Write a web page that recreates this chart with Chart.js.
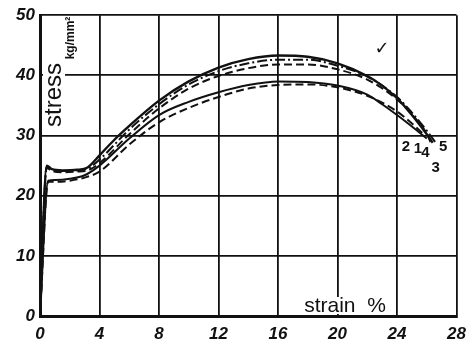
<!DOCTYPE html>
<html>
<head>
<meta charset="utf-8">
<script src="https://cdn.jsdelivr.net/npm/chart.js@4"></script>
<style>
  html, body { margin: 0; padding: 0; background: #fff; }
  canvas { display: block; }
</style>
</head>
<body>
<canvas id="stressChart" width="474" height="345"></canvas>
<script>
// Strain (%) and stress (kg/mm²), one pair of arrays per test curve
const strainA = [0, 0.45, 0.8, 1.5, 2.5, 3.2, 4, 5, 6, 8, 10, 12, 14, 16, 18, 20, 22, 23, 24, 25, 26, 26.4];
const stressA = [0, 25.0, 24.4, 24.2, 24.3, 24.7, 26.7, 29.3, 31.6, 35.8, 39.0, 41.3, 42.7, 43.3, 43.1, 42.0, 39.9, 38.3, 36.2, 33.4, 30.2, 28.8];

const strainB = [0, 0.45, 0.8, 1.5, 2.5, 3.2, 4, 6, 8, 10, 12, 14, 16, 18, 20, 22, 24, 25, 26, 26.6];
const stressB = [0, 24.8, 24.3, 24.1, 24.2, 24.5, 26.0, 31.0, 35.2, 38.5, 40.7, 42.0, 42.6, 42.6, 41.6, 39.8, 36.4, 33.8, 30.8, 28.8];

const strainC = [0, 0.45, 0.8, 1.5, 2.5, 3.2, 4, 6, 8, 10, 12, 14, 16, 18, 20, 22, 24, 25, 26, 26.3];
const stressC = [0, 24.6, 24.1, 23.9, 24.0, 24.2, 25.4, 30.2, 34.5, 37.8, 39.9, 41.2, 41.8, 41.8, 41.0, 39.3, 36.0, 33.5, 30.3, 28.6];

const strainD = [0, 0.55, 1, 2, 3, 4, 6, 8, 10, 12, 14, 16, 18, 20, 22, 23, 24, 25, 26];
const stressD = [0, 22.5, 22.6, 22.8, 23.4, 25.0, 29.5, 33.4, 35.6, 37.2, 38.4, 39.0, 38.9, 38.3, 36.8, 35.2, 33.4, 31.5, 29.5];

const strainE = [0, 0.55, 1, 2, 3, 4, 6, 8, 10, 12, 14, 16, 18, 20, 22, 24, 25, 25.8];
const stressE = [0, 22.3, 22.3, 22.5, 23.0, 24.0, 28.5, 32.2, 34.6, 36.4, 37.8, 38.4, 38.5, 38.0, 36.6, 34.0, 32.0, 30.2];

// Curve numbers written near the fracture ends
const curveLabels = ["2", "1", "4", "5", "3"];
const curveLabelX = [24.6, 25.4, 25.9, 27.1, 26.6];
const curveLabelY = [28.1, 27.8, 27.2, 28.1, 24.7];

const xTicks = [0, 4, 8, 12, 16, 20, 24, 28];
const yTicks = [0, 10, 20, 30, 40, 50];

const ink = "#111";
const tickFont = { family: "Liberation Sans", size: 17, weight: "bold", style: "italic" };

const toPoints = (xs, ys) => xs.map((x, i) => ({ x: x, y: ys[i] }));

const curve = (xs, ys, dash, width) => ({
  data: toPoints(xs, ys),
  showLine: true,
  borderColor: ink,
  borderWidth: width,
  borderDash: dash,
  pointRadius: 0,
  cubicInterpolationMode: "monotone",
  fill: false
});

// Text written inside the plot frame: axis names, curve numbers
const annotations = {
  id: "annotations",
  beforeDatasetsDraw(chart) {
    const ctx = chart.ctx;
    ctx.save();
    ctx.fillStyle = "#fff";
    ctx.fillRect(43, 58, 22, 74);
    ctx.fillRect(296, 297, 98, 17);
    ctx.restore();
  },
  afterDatasetsDraw(chart) {
    const ctx = chart.ctx;
    const xs = chart.scales.x;
    const ys = chart.scales.y;
    ctx.save();
    ctx.fillStyle = ink;
    ctx.textAlign = "center";
    ctx.textBaseline = "middle";

    // y axis name, rotated
    ctx.save();
    ctx.translate(54, 95);
    ctx.rotate(-Math.PI / 2);
    ctx.font = "24px 'Liberation Sans'";
    ctx.fillText("stress", 0, 0);
    ctx.restore();

    ctx.save();
    ctx.translate(71, 38);
    ctx.rotate(-Math.PI / 2);
    ctx.font = "bold 12px 'Liberation Sans'";
    ctx.fillText("kg/mm²", 0, 0);
    ctx.restore();

    // x axis name
    ctx.font = "21px 'Liberation Sans'";
    ctx.fillText("strain  %", 345, 306);

    // curve numbers
    ctx.font = "bold 15px 'Liberation Sans'";
    curveLabels.forEach((t, i) => {
      ctx.fillText(t, xs.getPixelForValue(curveLabelX[i]), ys.getPixelForValue(curveLabelY[i]));
    });

    // pencil tick on the scan
    ctx.font = "bold 18px 'DejaVu Sans'";
    ctx.fillText("✓", 382, 49);
    ctx.restore();
  }
};

new Chart(document.getElementById("stressChart"), {
  type: "scatter",
  data: {
    datasets: [
      curve(strainA, stressA, [], 2.4),
      curve(strainB, stressB, [10, 3, 2, 3], 2),
      curve(strainC, stressC, [8, 4], 2),
      curve(strainD, stressD, [], 2),
      curve(strainE, stressE, [8, 4], 2)
    ]
  },
  options: {
    responsive: false,
    animation: false,
    layout: { padding: { top: 15, right: 10, bottom: 0, left: 0 } },
    plugins: {
      legend: { display: false },
      tooltip: { enabled: false }
    },
    scales: {
      x: {
        type: "linear",
        min: 0,
        max: 28,
        afterFit: (scale) => { scale.height = 29; },
        afterBuildTicks: (scale) => { scale.ticks = xTicks.map((v) => ({ value: v })); },
        grid: { color: ink, lineWidth: 1.8, drawTicks: false },
        border: { color: ink, width: 3 },
        ticks: { color: ink, font: tickFont, padding: 8 }
      },
      y: {
        type: "linear",
        min: 0,
        max: 50,
        afterFit: (scale) => { scale.width = 40; },
        afterBuildTicks: (scale) => { scale.ticks = yTicks.map((v) => ({ value: v })); },
        grid: { color: ink, lineWidth: 1.8, drawTicks: false },
        border: { color: ink, width: 3 },
        ticks: { color: ink, font: tickFont, padding: 5 }
      }
    }
  },
  plugins: [annotations]
});
</script>
</body>
</html>
